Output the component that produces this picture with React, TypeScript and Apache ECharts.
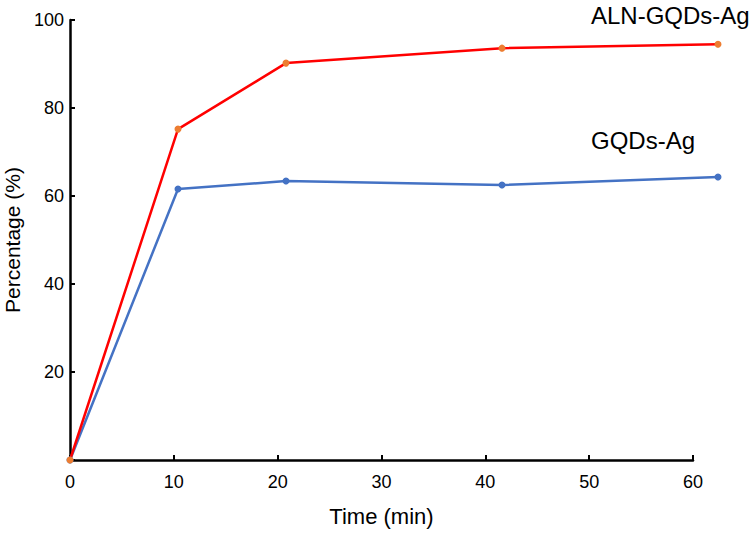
import React, { useEffect, useRef } from "react";
import * as echarts from "echarts";

const times = [0, 10, 20, 40, 60];
const alnGqdsAg = [0, 75.2, 90.2, 93.6, 94.5];
const gqdsAg = [0, 61.6, 63.4, 62.5, 64.3];
const seriesNames = ["ALN-GQDs-Ag", "GQDs-Ag"];
const xTicks = [0, 10, 20, 30, 40, 50, 60];
const yTicks = [0, 20, 40, 60, 80, 100];

const FONT = "Liberation Sans, Arial, Helvetica, sans-serif";

export default function App() {
  const ref = useRef<HTMLDivElement>(null);
  useEffect(() => {
    if (!ref.current) return;
    const chart = echarts.init(ref.current, undefined, { renderer: "svg" });
    const axisLine = { show: true, onZero: false, lineStyle: { color: "#000", width: 2.5 } };
    chart.setOption({
      animation: false,
      backgroundColor: "#fff",
      grid: [
        { left: 70, right: 57, top: 20, bottom: 73, outerBoundsMode: "none", containLabel: false },
        { left: 70, right: 32, top: 20, bottom: 73, outerBoundsMode: "none", containLabel: false },
      ],
      xAxis: [
        {
          type: "value",
          gridIndex: 0,
          min: xTicks[0],
          max: xTicks[xTicks.length - 1],
          interval: 10,
          axisLine,
          axisTick: { show: true, inside: true, length: 5, lineStyle: { color: "#000", width: 2 } },
          splitLine: { show: false },
          axisLabel: { color: "#000", fontSize: 18, fontFamily: FONT, margin: 13 },
          name: "Time (min)",
          nameLocation: "middle",
          nameGap: 45,
          nameTextStyle: { color: "#000", fontSize: 22, fontFamily: FONT },
        },
        {
          type: "value",
          gridIndex: 1,
          min: xTicks[0],
          max: xTicks[xTicks.length - 1],
          show: false,
        },
      ],
      yAxis: [
        {
          type: "value",
          gridIndex: 0,
          min: yTicks[0],
          max: yTicks[yTicks.length - 1],
          interval: 20,
          axisLine,
          axisTick: { show: true, inside: true, length: 5, lineStyle: { color: "#000", width: 2 } },
          splitLine: { show: false },
          axisLabel: {
            color: "#000",
            fontSize: 18,
            fontFamily: FONT,
            margin: 6,
            formatter: (v: number) => (v === 0 ? "" : String(v)),
          },
          name: "Percentage (%)",
          nameLocation: "middle",
          nameGap: 47,
          nameTextStyle: { color: "#000", fontSize: 21, fontFamily: FONT },
        },
        {
          type: "value",
          gridIndex: 1,
          min: yTicks[0],
          max: yTicks[yTicks.length - 1],
          show: false,
        },
      ],
      series: [
        {
          name: seriesNames[1],
          type: "line",
          xAxisIndex: 1,
          yAxisIndex: 1,
          data: times.map((t, i) => [t, gqdsAg[i]]),
          symbol: "circle",
          symbolSize: 7,
          lineStyle: { color: "#4472c4", width: 2.5 },
          itemStyle: { color: "#4472c4" },
          clip: false,
        },
        {
          name: seriesNames[0],
          type: "line",
          xAxisIndex: 1,
          yAxisIndex: 1,
          data: times.map((t, i) => [t, alnGqdsAg[i]]),
          symbol: "circle",
          symbolSize: 7,
          lineStyle: { color: "#ff0000", width: 2.5 },
          itemStyle: { color: "#ed7d31" },
          clip: false,
        },
      ],
      graphic: [
        {
          type: "text",
          left: 591,
          top: 3,
          style: { text: seriesNames[0], fontSize: 24, fontFamily: FONT, fill: "#000" },
        },
        {
          type: "text",
          left: 591,
          top: 128,
          style: { text: seriesNames[1], fontSize: 24, fontFamily: FONT, fill: "#000" },
        },
      ],
    });
    return () => chart.dispose();
  }, []);
  return (
    <div
      ref={ref}
      style={{ position: "absolute", left: 0, top: 0, width: 750, height: 533 }}
    />
  );
}
